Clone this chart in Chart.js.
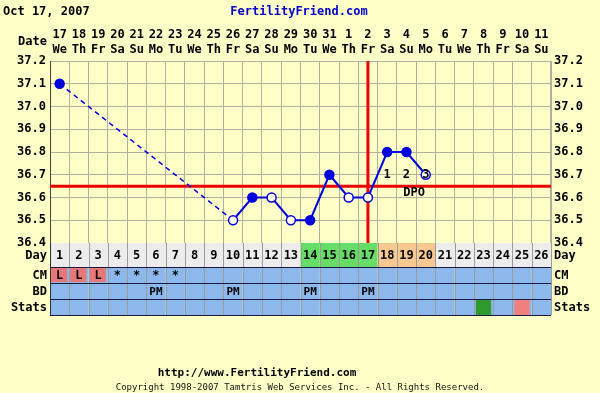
<!DOCTYPE html>
<html><head><meta charset="utf-8">
<script src="https://cdn.jsdelivr.net/npm/chart.js@4.4.0/dist/chart.umd.min.js"></script>
<style>html,body{margin:0;padding:0;background:#ffffc8;}#wrap{width:600px;height:393px;}</style>
</head><body><div id="wrap"><canvas id="c" width="600" height="393"></canvas></div>
<script>
const cycleDays = ['1','2','3','4','5','6','7','8','9','10','11','12','13','14','15','16','17','18','19','20','21','22','23','24','25','26'];
const dates = ['17','18','19','20','21','22','23','24','25','26','27','28','29','30','31','1','2','3','4','5','6','7','8','9','10','11'];
const weekdays = ['We','Th','Fr','Sa','Su','Mo','Tu','We','Th','Fr','Sa','Su','Mo','Tu','We','Th','Fr','Sa','Su','Mo','Tu','We','Th','Fr','Sa','Su'];
const temps = [37.1,null,null,null,null,null,null,null,null,36.5,36.6,36.6,36.5,36.5,36.7,36.6,36.6,36.8,36.8,36.7,null,null,null,null,null,null];
const openPoints = [0,0,0,0,0,0,0,0,0,1,0,1,1,0,0,1,1,0,0,1,0,0,0,0,0,0];
const yTicks = [36.4,36.5,36.6,36.7,36.8,36.9,37.0,37.1,37.2];
const coverLine = 36.65;
const ovulationDay = '17';
const dpoLabels = ['','','','','','','','','','','','','','','','','','1','2','3','','','','','',''];
const dayRowType = ['n','n','n','n','n','n','n','n','n','n','n','n','n','f','f','f','f','p','p','p','n','n','n','n','n','n'];
const cmRow = ['L','L','L','*','*','*','*','','','','','','','','','','','','','','','','','','',''];
const bdRow = ['','','','','','PM','','','','PM','','','','PM','','','PM','','','','','','','','',''];
const statsRow = ['','','','','','','','','','','','','','','','','','','','','','','g','','p',''];

const FONT = '"DejaVu Sans Mono", monospace';
const BG = '#ffffc8';

const decor = {
  id: 'decor',
  beforeDraw(chart) {
    const c = chart.ctx;
    c.save(); c.fillStyle = BG; c.fillRect(0,0,chart.width,chart.height); c.restore();
  },
  beforeDatasetsDraw(chart) {
    const c = chart.ctx, x = chart.scales.x, y = chart.scales.y, a = chart.chartArea;
    c.save();
    c.strokeStyle = '#ee0000'; c.lineWidth = 3;
    const yc = y.getPixelForValue(coverLine);
    c.beginPath(); c.moveTo(a.left, yc); c.lineTo(a.right, yc); c.stroke();
    const xo = x.getPixelForValue(cycleDays.indexOf(ovulationDay));
    c.beginPath(); c.moveTo(xo, a.top); c.lineTo(xo, a.bottom); c.stroke();
    c.restore();
  },
  afterDraw(chart) {
    const c = chart.ctx, x = chart.scales.x, y = chart.scales.y, a = chart.chartArea;
    const w = (a.right - a.left) / cycleDays.length;
    c.save();
    // DPO labels
    c.fillStyle = '#000'; c.font = 'bold 12px ' + FONT; c.textAlign = 'center'; c.textBaseline = 'middle';
    dpoLabels.forEach((t,i) => { if (t) c.fillText(t, x.getPixelForValue(i), y.getPixelForValue(36.7)); });
    const firstDpo = dpoLabels.findIndex(t => t);
    c.fillText('DPO', x.getPixelForValue(firstDpo + 1) + w*0.4, y.getPixelForValue(36.62));
    // Header texts
    c.textAlign = 'left'; c.font = 'bold 12px ' + FONT;
    c.fillText('Oct 17, 2007', 3, 12);
    c.textAlign = 'center'; c.fillStyle = '#0000cc';
    c.fillText('FertilityFriend.com', 299, 12);
    c.fillStyle = '#000'; c.textAlign = 'right';
    c.fillText('Date', 47, 42);
    // Rows
    const rows = [
      {name:'Day', h:24},
      {name:'CM', h:16},
      {name:'BD', h:16},
      {name:'Stats', h:16}
    ];
    let top = a.bottom;
    rows.forEach((r, ri) => {
      r.top = top; top += r.h;
    });
    const dayFill = {n:'#ececec', f:'#66dd66', p:'#f8c890'};
    for (let i = 0; i < cycleDays.length; i++) {
      const xl = x.getPixelForValue(i) - w/2;
      c.fillStyle = dayFill[dayRowType[i]];
      c.fillRect(xl, rows[0].top, w, rows[0].h);
      for (let ri = 1; ri < 4; ri++) {
        c.fillStyle = '#8cb8ec';
        c.fillRect(xl, rows[ri].top, w, rows[ri].h);
      }
      if (cmRow[i] === 'L') { c.fillStyle = '#e87878'; c.fillRect(xl+1, rows[1].top+1, w-3, rows[1].h-2); }
      if (statsRow[i]) { c.fillStyle = statsRow[i] === 'g' ? '#2f9a2f' : '#f08080'; c.fillRect(xl+2, rows[3].top+1, w-4, rows[3].h-1); }
    }
    // vertical separators
    c.strokeStyle = '#9a9a9a'; c.lineWidth = 1;
    for (let i = 0; i <= cycleDays.length; i++) {
      const xl = Math.round(a.left + i*w) + 0.5;
      c.beginPath(); c.moveTo(xl, rows[0].top); c.lineTo(xl, top); c.stroke();
    }
    // horizontal separators
    c.strokeStyle = '#1a1a40';
    for (let ri = 1; ri <= 4; ri++) {
      const yy = (ri < 4 ? rows[ri].top : top);
      c.beginPath(); c.moveTo(a.left, Math.round(yy)+0.5); c.lineTo(a.right, Math.round(yy)+0.5); c.stroke();
    }
    c.strokeStyle = '#333';
    c.beginPath(); c.moveTo(a.left+0.5, rows[0].top); c.lineTo(a.left+0.5, top); c.stroke();
    // row texts
    c.fillStyle = '#000'; c.textBaseline = 'middle';
    for (let i = 0; i < cycleDays.length; i++) {
      const xc = x.getPixelForValue(i);
      c.textAlign = 'center';
      c.font = 'bold 12px ' + FONT;
      c.fillText(cycleDays[i], xc, rows[0].top + rows[0].h/2 + 1);
      if (cmRow[i]) c.fillText(cmRow[i], xc, rows[1].top + rows[1].h/2 + 1);
      if (bdRow[i]) { c.font = 'bold 11px ' + FONT; c.fillText(bdRow[i], xc, rows[2].top + rows[2].h/2 + 1); }
    }
    c.font = 'bold 12px ' + FONT;
    rows.forEach(r => {
      const yy = r.top + r.h/2 + 1;
      c.textAlign = 'right'; c.fillText(r.name, 47, yy);
      c.textAlign = 'left'; c.fillText(r.name, 554, yy);
    });
    // footer
    c.textAlign = 'center';
    c.font = 'bold 11px ' + FONT;
    c.fillText('http://www.FertilityFriend.com', 257, 373);
    c.font = '9px ' + FONT;
    c.fillStyle = '#111';
    c.fillText('Copyright 1998-2007 Tamtris Web Services Inc. - All Rights Reserved.', 300, 388);
    c.restore();
  }
};

const gapped = (ctx, v) => (ctx.p0.skip || ctx.p1.skip ? v : undefined);

new Chart(document.getElementById('c'), {
  type: 'line',
  data: {
    labels: cycleDays,
    datasets: [{
      data: temps,
      spanGaps: true,
      borderColor: '#0000dd',
      borderWidth: 2,
      pointRadius: 4.5,
      pointBorderWidth: 1.5,
      pointBorderColor: '#0000dd',
      pointBackgroundColor: openPoints.map(o => o ? '#ffffee' : '#0000dd'),
      segment: {
        borderDash: ctx => gapped(ctx, [5,4]),
        borderWidth: ctx => gapped(ctx, 1.5)
      }
    }]
  },
  options: {
    responsive: false,
    animation: false,
    devicePixelRatio: 1,
    layout: { padding: { bottom: 150 } },
    plugins: { legend: { display: false }, tooltip: { enabled: false } },
    scales: {
      x: {
        type: 'category',
        position: 'top',
        offset: true,
        grid: { offset: true, color: '#b0b0a0', drawTicks: false },
        border: { color: '#b0b0a0' },
        afterFit(s) { s.height = 61; },
        ticks: {
          autoSkip: false, maxRotation: 0, minRotation: 0, padding: 4,
          color: '#000', font: { family: FONT, size: 12, weight: 'bold', lineHeight: 1.25 },
          callback: (v, i) => [dates[i], weekdays[i]]
        }
      },
      y: {
        position: 'left',
        min: 36.4, max: 37.2,
        afterBuildTicks(s) { s.ticks = yTicks.map(v => ({ value: v })); },
        afterFit(s) { s.width = 50; },
        grid: { color: '#b0b0a0', drawTicks: false },
        border: { color: '#444' },
        ticks: { padding: 4, color: '#000', font: { family: FONT, size: 12, weight: 'bold' }, callback: v => Number(v).toFixed(1) }
      },
      y2: {
        position: 'right',
        min: 36.4, max: 37.2,
        afterBuildTicks(s) { s.ticks = yTicks.map(v => ({ value: v })); },
        afterFit(s) { s.width = 49; },
        grid: { drawOnChartArea: false, drawTicks: false },
        border: { color: '#b0b0a0' },
        ticks: { padding: 3, color: '#000', font: { family: FONT, size: 12, weight: 'bold' }, callback: v => Number(v).toFixed(1) }
      }
    }
  },
  plugins: [decor]
});
</script></body></html>
